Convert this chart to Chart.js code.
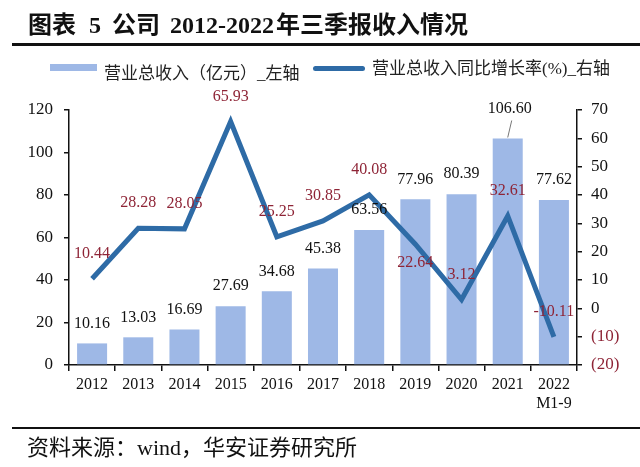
<!DOCTYPE html>
<html>
<head>
<meta charset="utf-8">
<script src="https://cdn.jsdelivr.net/npm/chart.js@4.4.0/dist/chart.umd.min.js"></script>
<style>
  html, body { margin: 0; padding: 0; background: #fff; }
  #wrap { position: relative; width: 640px; height: 467px; overflow: hidden; background: #fff; }
  #c { position: absolute; left: 0; top: 0; }
  .title { position: absolute; left: 28px; top: 10px; line-height: 30px; font-size: 24px; font-weight: bold;
           font-family: "Liberation Serif", "Noto Sans CJK SC", serif; color: #111; white-space: nowrap; }
  .title span { display: inline-block; }
  .rule { position: absolute; left: 12px; right: 0; background: #111; }
  .legend { position: absolute; font-family: "Liberation Serif", "Noto Sans CJK SC", serif; font-size: 17px;
            color: #222; white-space: nowrap; line-height: 20px; }
  .sw { position: absolute; }
  .source { position: absolute; left: 27px; top: 435px; line-height: 26px; font-size: 22px;
            font-family: "Liberation Serif", "Noto Sans CJK SC", serif; color: #111; white-space: nowrap; }
</style>
</head>
<body>
<div id="wrap">
  <canvas id="c" width="640" height="467"></canvas>
  <div class="title"><span style="margin-right:13px">图表</span><span style="margin-right:11px">5</span><span style="margin-right:10px">公司</span><span style="margin-right:2px">2012-2022</span><span>年三季报收入情况</span></div>
  <div class="rule" style="top:43px;height:2.5px"></div>
  <div class="sw" id="sw1" style="left:50px;top:64px;width:47px;height:7px"></div>
  <div class="legend" style="left:104px;top:64px">营业总收入（亿元）_左轴</div>
  <div class="sw" id="sw2" style="left:313px;top:65.5px;width:52px;height:5px;border-radius:3px"></div>
  <div class="legend" style="left:372px;top:59px">营业总收入同比增长率(%)_右轴</div>
  <div class="rule" style="top:427px;height:2px"></div>
  <div class="source">资料来源：wind，华安证券研究所</div>
</div>
<script>
// ---- data ----
const categories = ['2012', '2013', '2014', '2015', '2016', '2017', '2018', '2019', '2020', '2021', ['2022', 'M1-9']];
const revenue = [10.16, 13.03, 16.69, 27.69, 34.68, 45.38, 63.56, 77.96, 80.39, 106.60, 77.62];
const growth = [10.44, 28.28, 28.05, 65.93, 25.25, 30.85, 40.08, 22.64, 3.12, 32.61, -10.11];
const leftTicks = [0, 20, 40, 60, 80, 100, 120];
const rightTicks = [-20, -10, 0, 10, 20, 30, 40, 50, 60, 70];

// ---- style ----
const BAR_COLOR = '#9EB8E6';
const LINE_COLOR = '#2E6BA6';
const RED = '#8E2436';
const INK = '#111';
const SERIF = '"Liberation Serif", "Noto Sans CJK SC", serif';
const growthLabelBelow = [7];   // label placed under the point
const revenueLeaderIdx = [9];   // label lifted with a leader line

document.getElementById('sw1').style.background = BAR_COLOR;
document.getElementById('sw2').style.background = LINE_COLOR;

const valueLabels = {
  id: 'valueLabels',
  afterDatasetsDraw(chart) {
    const ctx = chart.ctx;
    const barMeta = chart.getDatasetMeta(0);
    const lineMeta = chart.getDatasetMeta(1);
    ctx.save();
    ctx.font = '16px ' + SERIF;
    ctx.textAlign = 'center';
    ctx.textBaseline = 'middle';
    barMeta.data.forEach((el, i) => {
      const lifted = revenueLeaderIdx.includes(i);
      const x = el.x + (lifted ? 2 : 0);
      const y = el.y - (lifted ? 30 : 20);
      if (lifted) {
        ctx.strokeStyle = '#777';
        ctx.lineWidth = 1;
        ctx.beginPath();
        ctx.moveTo(x + 2, y + 12);
        ctx.lineTo(el.x, el.y - 1);
        ctx.stroke();
      }
      ctx.fillStyle = INK;
      ctx.fillText(revenue[i].toFixed(2), x, y);
    });
    lineMeta.data.forEach((el, i) => {
      const below = growthLabelBelow.includes(i);
      ctx.fillStyle = RED;
      ctx.fillText(growth[i].toFixed(2), el.x, el.y + (below ? 19 : -25));
    });
    ctx.restore();
  }
};

new Chart(document.getElementById('c'), {
  data: {
    labels: categories,
    datasets: [
      {
        type: 'bar',
        label: '营业总收入（亿元）_左轴',
        data: revenue,
        backgroundColor: BAR_COLOR,
        borderWidth: 0,
        yAxisID: 'y',
        categoryPercentage: 1,
        barPercentage: 0.65,
        order: 2
      },
      {
        type: 'line',
        label: '营业总收入同比增长率(%)_右轴',
        data: growth,
        borderColor: LINE_COLOR,
        backgroundColor: LINE_COLOR,
        borderWidth: 5,
        pointRadius: 0,
        tension: 0,
        borderJoinStyle: 'miter',
        yAxisID: 'y1',
        order: 1
      }
    ]
  },
  options: {
    responsive: false,
    animation: false,
    layout: { padding: { top: 110, left: 0, right: 0, bottom: 0 } },
    plugins: { legend: { display: false }, tooltip: { enabled: false } },
    scales: {
      x: {
        offset: true,
        afterFit(scale) { scale.height = 102; },
        grid: { display: true, drawOnChartArea: false, offset: true, tickLength: 6, color: INK, lineWidth: 1.5 },
        border: { display: true, color: INK, width: 1.5 },
        ticks: { color: INK, font: { family: SERIF, size: 16 }, padding: 4, maxRotation: 0, autoSkip: false }
      },
      y: {
        position: 'left',
        min: leftTicks[0],
        max: leftTicks[leftTicks.length - 1],
        afterFit(scale) { scale.width = 69; },
        afterBuildTicks(scale) { scale.ticks = leftTicks.map(v => ({ value: v })); },
        grid: { drawOnChartArea: false, tickLength: 5, color: INK, lineWidth: 1.5 },
        border: { display: true, color: INK, width: 1.5 },
        ticks: { color: INK, font: { family: SERIF, size: 17 }, padding: 11 }
      },
      y1: {
        position: 'right',
        min: rightTicks[0],
        max: rightTicks[rightTicks.length - 1],
        afterFit(scale) { scale.width = 63; },
        afterBuildTicks(scale) { scale.ticks = rightTicks.map(v => ({ value: v })); },
        grid: { drawOnChartArea: false, tickLength: 5, color: INK, lineWidth: 1.5 },
        border: { display: true, color: INK, width: 1.5 },
        ticks: {
          font: { family: SERIF, size: 17 },
          padding: 9,
          color: (c) => (c.tick && c.tick.value < 0 ? RED : INK),
          callback: (v) => (v < 0 ? '(' + Math.abs(v) + ')' : String(v))
        }
      }
    }
  },
  plugins: [valueLabels]
});
</script>
</body>
</html>
